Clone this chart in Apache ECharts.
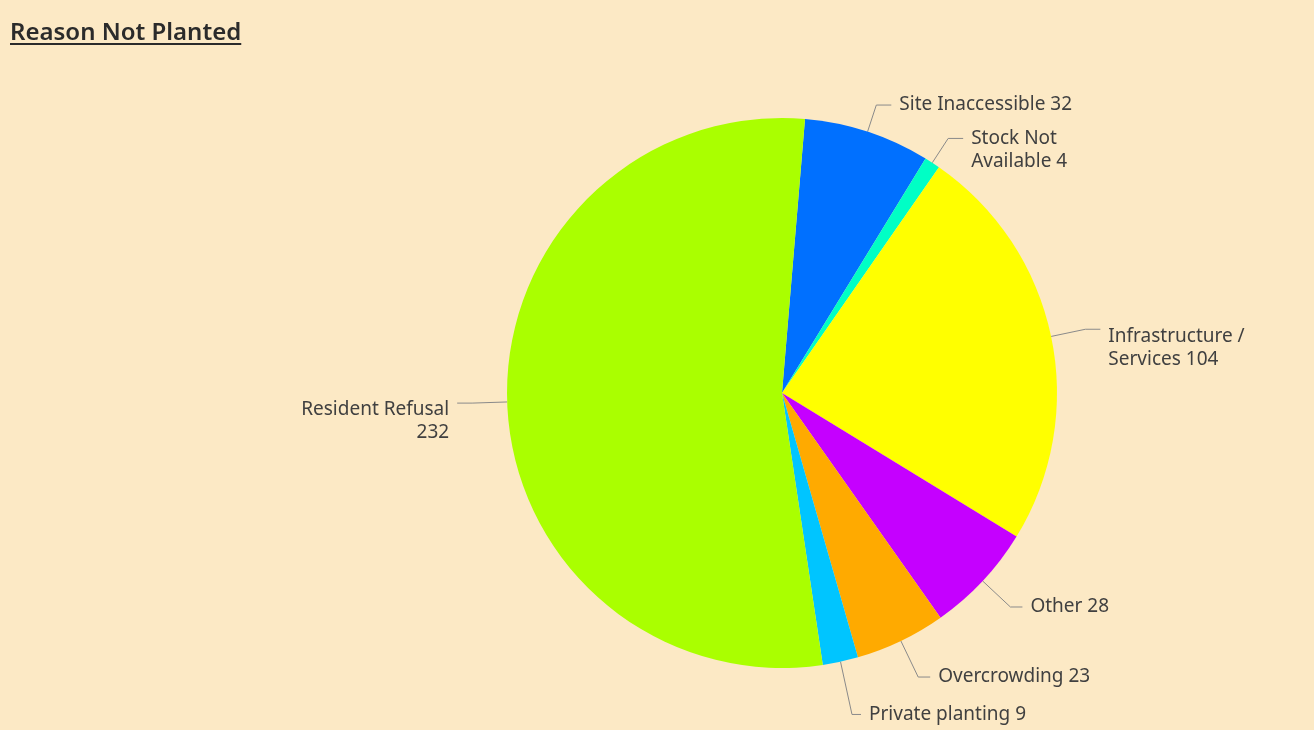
<!DOCTYPE html>
<html>
<head>
<meta charset="utf-8">
<script src="https://cdn.jsdelivr.net/npm/echarts@6/dist/echarts.min.js"></script>
<style>
  html, body { margin: 0; padding: 0; background: #FCE9C5; }
  #title { position: absolute; left: 10px; top: 14px; font-family: "Noto Sans", sans-serif; font-weight: 600; font-size: 24px; color: #2b2b2b; text-decoration: underline; text-underline-offset: 3px; text-decoration-thickness: 2px; z-index: 2; }
  #chart { width: 1314px; height: 730px; }
</style>
</head>
<body>
<div id="title">Reason Not Planted</div>
<div id="chart"></div>
<script>
const categories = ["Site Inaccessible", "Stock Not Available", "Infrastructure / Services", "Other", "Overcrowding", "Private planting", "Resident Refusal"];
const values = [32, 4, 104, 28, 23, 9, 232];
const labelTexts = ["Site Inaccessible 32", "Stock Not\nAvailable 4", "Infrastructure /\nServices 104", "Other 28", "Overcrowding 23", "Private planting 9", "Resident Refusal\n232"];
const colors = ["#0070FF", "#00FFC5", "#FFFF00", "#C500FF", "#FFAA00", "#00C5FF", "#AAFF00"];

// label-line layout tweaks (style only)
const lineLen1 = [28, 29, 35, 38, 40, 54, 35];
const lineLen2 = [15, 15, 15, 12, 12, 9, 15];
const labelShiftY = [0, 11.5, 19, 0, 0, 0, 18];

const chart = echarts.init(document.getElementById('chart'));
chart.setOption({
  backgroundColor: '#FCE9C5',
  animation: false,
  series: [{
    type: 'pie',
    center: [782, 393],
    radius: 275,
    startAngle: 85.2,
    clockwise: true,
    avoidLabelOverlap: false,
    data: categories.map((c, i) => ({
      name: c, value: values[i], itemStyle: { color: colors[i] },
      labelLine: { length: lineLen1[i], length2: lineLen2[i] }
    })),
    itemStyle: { borderWidth: 0 },
    label: {
      show: true,
      fontFamily: 'Noto Sans',
      fontSize: 19,
      lineHeight: 23,
      color: '#404040',
      distanceToLabelLine: 8,
      formatter: p => labelTexts[p.dataIndex]
    },
    labelLine: {
      show: true,
      lineStyle: { color: '#8a8a8a', width: 1 }
    },
    labelLayout: p => (labelShiftY[p.dataIndex] ? { dy: labelShiftY[p.dataIndex] } : {})
  }]
});
</script>
</body>
</html>
